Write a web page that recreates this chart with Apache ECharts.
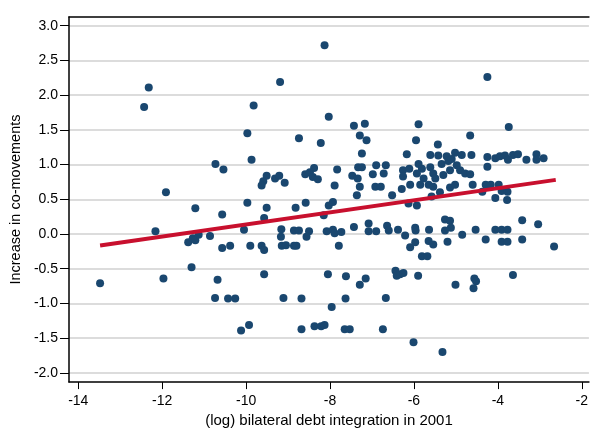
<!DOCTYPE html>
<html>
<head>
<meta charset="utf-8">
<script src="https://cdn.jsdelivr.net/npm/echarts/dist/echarts.min.js"></script>
<style>html,body{margin:0;padding:0;background:#fff}#c{width:591px;height:433px}</style>
</head>
<body>
<div id="c"></div>
<script>
// scatter points [x, y]
var points = [
[-12.32,2.11],[-12.43,1.83],
[-8.13,2.72],[-9.19,2.19],[-9.82,1.85],[-8.03,1.69],[-9.97,1.45],[-8.74,1.38],[-8.22,1.31],[-7.43,1.56],[-7.29,1.42],[-7.17,1.59],[-7.13,1.35],[-5.89,1.58],[-5.95,1.35],
[-4.25,2.26],[-3.74,1.54],[-4.66,1.42],[-5.43,1.29],
[-10.73,1.01],[-10.54,0.93],[-11.91,0.60],[-11.21,0.37],[-10.57,0.28],[-12.16,0.04],[-10.05,0.06],[-11.38,-0.12],[-11.27,-0.06],[-11.21,-0.09],[-11.13,-0.01],[-10.86,-0.03],[-10.57,-0.20],[-10.38,-0.17],
[-13.48,-0.71],[-11.97,-0.64],[-11.30,-0.48],[-10.68,-0.66],[-10.74,-0.92],[-10.43,-0.93],[-10.26,-0.93],[-10.12,-1.39],
[-7.24,1.16],[-9.87,1.07],[-6.17,1.15],[-9.51,0.84],[-9.59,0.76],[-9.63,0.70],[-9.31,0.80],[-9.21,0.84],[-9.08,0.74],[-8.59,0.86],[-8.38,0.95],[-8.48,0.89],[-8.41,0.82],[-8.29,0.79],[-7.83,0.93],[-7.89,0.70],[-7.47,0.84],[-7.34,0.80],[-7.29,0.68],[-7.36,0.56],[-7.33,0.96],[-7.24,0.96],[-6.90,0.99],[-6.98,0.86],[-6.67,0.99],[-6.72,0.87],[-6.92,0.68],[-6.79,0.68],[-6.52,0.56],[-6.26,0.92],[-6.26,0.83],[-6.09,0.71],[-6.29,0.65],[-6.11,0.94],
[-9.97,0.45],[-9.51,0.38],[-9.57,0.23],[-8.82,0.38],[-8.58,0.45],[-8.03,0.41],[-7.93,0.46],[-8.15,0.27],[-6.13,0.44],[-5.93,0.41],
[-9.16,0.07],[-9.17,-0.04],[-8.86,0.05],[-8.74,0.05],[-8.50,0.04],[-8.56,-0.04],[-8.08,0.04],[-7.93,0.06],[-7.89,0.01],[-7.73,0.03],[-7.43,0.10],[-7.08,0.15],[-7.08,0.04],[-6.90,0.04],[-6.64,0.12],[-6.60,0.05],[-6.38,0.06],[-6.21,-0.02],[-6.09,-0.19],[-5.97,-0.12],
[-9.90,-0.17],[-9.63,-0.17],[-9.57,-0.23],[-9.15,-0.17],[-9.05,-0.16],[-8.86,-0.17],[-8.80,-0.17],[-7.79,-0.17],
[-9.57,-0.58],[-8.05,-0.58],[-7.62,-0.61],[-7.29,-0.73],[-7.15,-0.64],[-6.44,-0.53],[-6.41,-0.60],[-6.33,-0.58],[-6.25,-0.56],[-5.90,-0.60],[-9.11,-0.92],[-8.68,-0.93],[-7.96,-1.05],[-7.63,-0.93],[-6.67,-0.92],[-9.93,-1.31],[-8.68,-1.37],[-8.37,-1.33],[-8.21,-1.33],[-8.13,-1.31],[-7.65,-1.37],[-7.53,-1.37],[-6.74,-1.37],[-6.01,-1.56],
[-5.81,-0.32],[-5.68,-0.32],[-5.01,-0.73],[-4.56,-0.64],[-4.52,-0.68],[-4.58,-0.78],[-3.64,-0.59],[-5.32,-1.70],
[-5.61,1.14],[-5.42,1.13],[-5.22,1.12],[-5.02,1.17],[-4.86,1.14],[-4.63,1.14],[-5.18,1.05],[-5.10,1.08],[-4.25,1.11],[-4.06,1.09],[-3.95,1.12],[-3.83,1.13],[-3.76,1.07],[-3.64,1.14],[-3.52,1.15],[-3.32,1.07],[-3.08,1.15],[-3.08,1.07],[-2.91,1.09],[-4.25,0.97],
[-5.89,1.01],[-5.81,0.94],[-5.93,0.87],[-5.77,0.80],[-5.85,0.71],[-5.65,0.71],[-5.61,0.96],[-5.54,0.87],[-5.49,0.80],[-5.34,1.01],[-5.30,0.85],[-5.14,0.92],[-4.98,0.99],[-4.90,0.92],[-4.78,0.87],[-4.66,0.86],[-5.54,0.68],[-5.38,0.60],[-5.58,0.54],[-5.14,0.67],[-5.02,0.71],[-4.60,0.71],[-4.29,0.71],[-4.17,0.71],[-4.37,0.61],[-3.98,0.71],[-3.91,0.62],[-3.77,0.61],[-4.06,0.52],[-3.78,0.49],
[-5.26,0.21],[-5.14,0.19],[-5.12,0.09],[-5.26,0.05],[-5.97,0.09],[-5.96,0.05],[-5.64,0.06],[-4.85,-0.01],[-4.53,0.06],[-4.06,0.06],[-3.91,0.06],[-3.77,0.06],[-3.42,0.20],[-3.04,0.14],[-5.65,-0.10],[-5.54,-0.15],[-5.20,-0.11],[-4.29,-0.08],[-3.91,-0.11],[-3.77,-0.11],[-3.42,-0.08],[-2.66,-0.18]
];
// fitted line end points [x, y]
var fitLine = [[-13.48,-0.165],[-2.62,0.78]];
var xTicks = [-14,-12,-10,-8,-6,-4,-2];
var yTicks = [-2,-1.5,-1,-0.5,0,0.5,1,1.5,2,2.5,3];
var xName = '(log) bilateral debt integration in 2001';
var yName = 'Increase in co-movements';

var chart = echarts.init(document.getElementById('c'), null, {renderer:'canvas'});
var font = 'Liberation Sans, Arial, sans-serif';
chart.setOption({
  animation:false,
  backgroundColor:'#fff',
  grid:{left:69, right:0, top:17, bottom:44, containLabel:false},
  xAxis:[{
    type:'value', min:-14.22, max:-1.83,
    name:xName, nameLocation:'middle', nameGap:27,
    nameTextStyle:{fontFamily:font, fontSize:15, color:'#000'},
    axisLine:{show:true, onZero:false, lineStyle:{color:'#000', width:1.5}},
    axisTick:{show:true, length:7, lineStyle:{color:'#000', width:1}, customValues:xTicks},
    axisLabel:{fontFamily:font, fontSize:14, color:'#000', margin:12, customValues:xTicks, formatter:function(v){return String(v);}},
    splitLine:{show:false}
  },{
    type:'value', position:'top', min:-14.22, max:-1.83,
    axisLine:{show:true, onZero:false, lineStyle:{color:'#000', width:1.5}},
    axisTick:{show:false}, axisLabel:{show:false}, splitLine:{show:false}
  }],
  yAxis:{
    type:'value', min:-2.133, max:3.126,
    name:yName, nameLocation:'middle', nameGap:46,
    nameTextStyle:{fontFamily:font, fontSize:14.5, color:'#000'},
    axisLine:{show:true, onZero:false, lineStyle:{color:'#000', width:1.5}},
    axisTick:{show:true, length:9, lineStyle:{color:'#000', width:1}, customValues:yTicks},
    axisLabel:{fontFamily:font, fontSize:14, color:'#000', margin:11, customValues:yTicks, formatter:function(v){return v.toFixed(1);}},
    splitLine:{show:true, lineStyle:{color:'#d0d0d0', width:1.5}}
  },
  series:[{
    type:'scatter', data:points, symbolSize:8,
    itemStyle:{color:'#1a476f', opacity:1}, z:2
  },{
    type:'line', data:fitLine, symbol:'none',
    lineStyle:{color:'#c8102e', width:4}, z:3
  }]
});
</script>
</body>
</html>
